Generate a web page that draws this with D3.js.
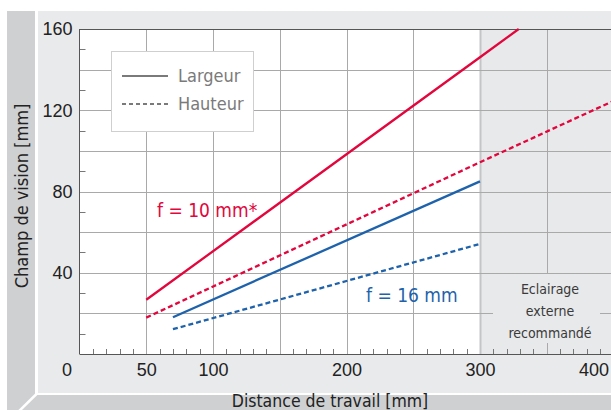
<!DOCTYPE html>
<html>
<head>
<meta charset="utf-8">
<script src="https://cdn.jsdelivr.net/npm/d3@7"></script>
<style>
  body { margin: 0; background: #fff; }
  svg { display: block; font-family: "DejaVu Sans Condensed", "Liberation Sans Narrow", sans-serif; font-stretch: condensed; }
</style>
</head>
<body>
<div id="chart"></div>
<script>
// tick labels
const xLabels = [0, 50, 100, 200, 300, 400];
const yLabels = [40, 80, 120, 160];

// f = 10 mm
const f10LargeurX = [50, 300, 329];
const f10LargeurY = [26.7, 146.1, 160];
const f10HauteurX = [50, 300, 400];
const f10HauteurY = [17.9, 94.4, 124.6];

// f = 16 mm
const f16LargeurX = [70, 300];
const f16LargeurY = [18.1, 85];
const f16HauteurX = [70, 300];
const f16HauteurY = [12.2, 54.2];

const legendItems = ["Largeur", "Hauteur"];

const W = 611, H = 410;
const red = "#e2063d", blue = "#1d62ab";

const svg = d3.select("#chart")
    .append("svg")
    .attr("width", W)
    .attr("height", H);

// frame
svg.append("rect").attr("x", 7).attr("y", 11).attr("width", W - 7).attr("height", H - 11).attr("fill", "#cfd0d2");
svg.append("rect").attr("x", 35).attr("y", 11).attr("width", W - 35).attr("height", 384).attr("fill", "#fff");
svg.append("rect").attr("x", 38).attr("y", 11).attr("width", W - 38).attr("height", 382).attr("fill", "#e9eaec");
svg.append("line").attr("x1", 36.5).attr("y1", 394).attr("x2", 10).attr("y2", 420)
    .attr("stroke", "#fff").attr("stroke-width", 2.5);

const x = d3.scaleLinear().domain([0, 400]).range([79.5, 613.5]);
const y = d3.scaleLinear().domain([0, 160]).range([354, 29]);

// plot backgrounds
svg.append("rect")
    .attr("x", x(0)).attr("y", y(160))
    .attr("width", x(300) - x(0)).attr("height", y(0) - y(160))
    .attr("fill", "#fff");
svg.append("rect")
    .attr("x", x(300)).attr("y", y(160))
    .attr("width", x(400) - x(300)).attr("height", y(0) - y(160))
    .attr("fill", "#e8e9eb");

const grid = svg.append("g");

//vertical grid
grid.selectAll(".vg")
    .data(d3.range(50, 400, 50))
    .enter().append("line")
    .attr("x1", d => Math.round(x(d)) + 0.5).attr("x2", d => Math.round(x(d)) + 0.5)
    .attr("y1", y(160)).attr("y2", y(0))
    .attr("stroke", d => d === 300 ? "#c4c5c7" : "#a9a9a9")
    .attr("stroke-width", d => d === 300 ? 2 : 1);

//horizontal grid
grid.selectAll(".hg")
    .data(d3.range(20, 160, 20))
    .enter().append("line")
    .attr("x1", x(0)).attr("x2", W)
    .attr("y1", d => Math.round(y(d)) + 0.5).attr("y2", d => Math.round(y(d)) + 0.5)
    .attr("stroke", "#a9a9a9");

// minor ticks
grid.selectAll(".xt")
    .data(d3.range(10, 400, 10).filter(d => d % 50 !== 0))
    .enter().append("line")
    .attr("x1", d => Math.round(x(d)) + 0.5).attr("x2", d => Math.round(x(d)) + 0.5)
    .attr("y1", y(0) - 5).attr("y2", y(0))
    .attr("stroke", "#777");
grid.selectAll(".yt")
    .data(d3.range(10, 160, 20))
    .enter().append("line")
    .attr("x1", x(0)).attr("x2", x(0) + 6)
    .attr("y1", d => Math.round(y(d)) + 0.5).attr("y2", d => Math.round(y(d)) + 0.5)
    .attr("stroke", "#777");

// knock-out for the note
svg.append("rect")
    .attr("x", 493).attr("y", 274).attr("width", 107).attr("height", 69)
    .attr("fill", "#e8e9eb");

svg.append("g")
    .attr("fill", "#3a3a3a")
    .style("font-size", "14px")
    .attr("text-anchor", "middle")
    .selectAll("text")
    .data(["Eclairage", "externe", "recommandé"])
    .enter().append("text")
    .attr("x", 550)
    .attr("y", (d, i) => 294 + i * 22)
    .text(d => d);

// frame lines of plot
svg.append("line").attr("x1", x(0)).attr("x2", W).attr("y1", 29.5).attr("y2", 29.5).attr("stroke", "#555");
svg.append("line").attr("x1", x(0)).attr("x2", x(0)).attr("y1", 29).attr("y2", 354).attr("stroke", "#555");
svg.append("line").attr("x1", x(0)).attr("x2", W).attr("y1", 354.5).attr("y2", 354.5).attr("stroke", "#555");

//Y Axis labels
const yAxis = svg.append("g")
    .attr("transform", `translate(${x(0)},0)`)
    .call(d3.axisLeft(y).tickValues(yLabels).tickSize(0).tickPadding(7));
yAxis.select(".domain").remove();
yAxis.selectAll("text")
    .style("font-size", "18px")
    .style("font-family", "inherit")
    .attr("fill", "#222");

//X Axis labels
const xAxis = svg.append("g")
    .attr("transform", `translate(0,${y(0)})`)
    .call(d3.axisBottom(x).tickValues(xLabels).tickSize(0).tickPadding(9));
xAxis.select(".domain").remove();
xAxis.selectAll("text")
    .style("font-size", "18px")
    .style("font-family", "inherit")
    .attr("fill", "#222")
    .attr("dx", d => d === 0 ? -13 : d === 400 ? -20 : 0);

// lines
const line = d3.line()
    .x(d => x(d[0]))
    .y(d => y(d[1]));

const seriesList = [
    { xs: f10LargeurX, ys: f10LargeurY, color: red, dash: null },
    { xs: f10HauteurX, ys: f10HauteurY, color: red, dash: "5,3" },
    { xs: f16LargeurX, ys: f16LargeurY, color: blue, dash: null },
    { xs: f16HauteurX, ys: f16HauteurY, color: blue, dash: "5,3" }
];

svg.append("g")
    .selectAll("path")
    .data(seriesList)
    .enter().append("path")
    .attr("d", s => line(s.xs.map((v, i) => [v, s.ys[i]])))
    .attr("fill", "none")
    .attr("stroke", s => s.color)
    .attr("stroke-width", 2.3)
    .attr("stroke-dasharray", s => s.dash);

// series labels
svg.append("text")
    .attr("x", 157).attr("y", 217)
    .attr("fill", red)
    .style("font-size", "19px")
    .text("f = 10 mm*");
svg.append("text")
    .attr("x", 366).attr("y", 302)
    .attr("fill", blue)
    .style("font-size", "19px")
    .text("f = 16 mm");

// legend
const legend = svg.append("g");
legend.append("rect")
    .attr("x", 111.5).attr("y", 51.5).attr("width", 142).attr("height", 80)
    .attr("fill", "#fff").attr("stroke", "#cfcfcf");
legend.selectAll("line")
    .data(legendItems)
    .enter().append("line")
    .attr("x1", 122).attr("x2", 168)
    .attr("y1", (d, i) => 76 + i * 28).attr("y2", (d, i) => 76 + i * 28)
    .attr("stroke", "#7a7a7a").attr("stroke-width", 2.2)
    .attr("stroke-dasharray", (d, i) => i ? "4,3" : null);
legend.selectAll("text")
    .data(legendItems)
    .enter().append("text")
    .attr("x", 178)
    .attr("y", (d, i) => 82 + i * 28)
    .attr("fill", "#7a7a7a")
    .style("font-size", "18px")
    .text(d => d);

//Axis titles
svg.append("text")
    .attr("transform", "rotate(-90)")
    .attr("x", -196)
    .attr("y", 28)
    .attr("text-anchor", "middle")
    .attr("fill", "#222")
    .style("font-size", "18px")
    .text("Champ de vision [mm]");

svg.append("text")
    .attr("x", 330)
    .attr("y", 407)
    .attr("text-anchor", "middle")
    .attr("fill", "#222")
    .style("font-size", "17.5px")
    .text("Distance de travail [mm]");
</script>
</body>
</html>
